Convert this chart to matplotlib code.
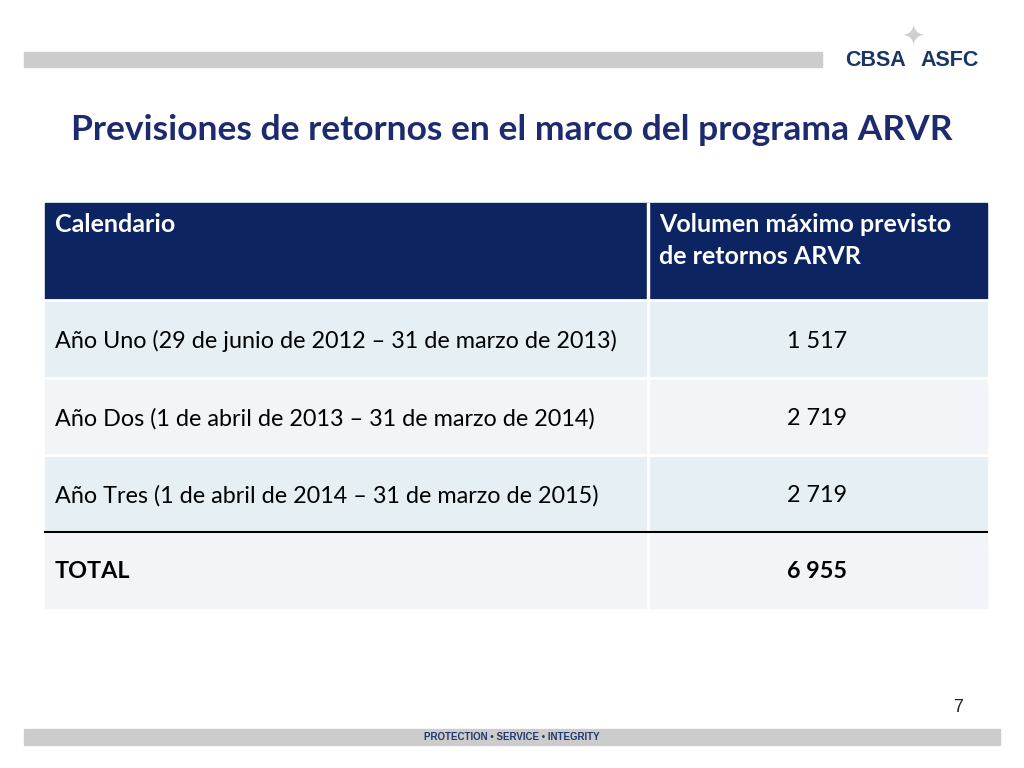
import matplotlib.pyplot as plt
from matplotlib.patches import Rectangle

# datos de la tabla
encabezados = ["Calendario", "Volumen máximo previsto\nde retornos ARVR"]
periodos = [
    "Año Uno (29 de junio de 2012 – 31 de marzo de 2013)",
    "Año Dos (1 de abril de 2013 – 31 de marzo de 2014)",
    "Año Tres (1 de abril de 2014 – 31 de marzo de 2015)",
    "TOTAL",
]
volumenes = ["1 517", "2 719", "2 719", "6 955"]

plt.rcParams['font.family'] = 'Lato'
navy = "#0c2462"
fig = plt.figure(figsize=(10.24, 7.68), dpi=100)
ax = fig.add_axes([0, 0, 1, 1])
ax.set_xlim(0, 1024)
ax.set_ylim(768, 0)
ax.axis("off")

# barras grises de cabecera y pie
ax.add_patch(Rectangle((24, 52), 798, 15, color="#cccccc"))
ax.add_patch(Rectangle((24, 729), 976, 16, color="#cccccc"))
ax.text(512, 737.5, "PROTECTION • SERVICE • INTEGRITY", ha="center", va="center",
        fontsize=7, fontweight="bold", color="#1f3a6b", family="Liberation Sans")
ax.text(958, 708, "7", ha="center", va="center", fontsize=13, color="#222222",
        family="Liberation Sans")

# logo
ax.text(913, 36, "✦", ha="center", va="center", fontsize=20, color="#cfcfcf",
        family="DejaVu Sans", zorder=0)
ax.text(906, 60, "CBSA", ha="right", va="center", fontsize=15.5, fontweight="bold",
        color="#1a3566", family="Liberation Sans")
ax.text(920, 60, "ASFC", ha="left", va="center", fontsize=15.5, fontweight="bold",
        color="#1a3566", family="Liberation Sans")

# título
ax.text(512, 130, "Previsiones de retornos en el marco del programa ARVR", ha="center",
        va="center", fontsize=25.5, fontweight="bold", color="#1d2b6e")

# tabla
x0, xm, x1 = 45, 648, 987
ax.add_patch(Rectangle((x0, 203), x1 - x0, 97, color=navy))
ax.add_patch(Rectangle((xm - 1, 203), 2, 97, color="white"))
ax.text(55, 213, encabezados[0], ha="left", va="top", fontsize=18, color="white", fontweight="bold")
ax.text(659, 213, encabezados[1], ha="left", va="top", fontsize=18, color="white",
        fontweight="bold", linespacing=1.5)

filas_y = [300, 378, 455, 532, 608]
colores = ["#e6eff3", "#f1f5f8", "#e6eff3", "#f1f5f8"]
for i, (p, v) in enumerate(zip(periodos, volumenes)):
    ya, yb = filas_y[i], filas_y[i + 1]
    ax.add_patch(Rectangle((x0, ya), x1 - x0, yb - ya, color=colores[i]))
    ax.plot([x0, x1], [ya, ya], color="white", lw=2)
    peso = "bold" if p == "TOTAL" else "normal"
    ax.text(55, (ya + yb) / 2 + 2, p, ha="left", va="center", fontsize=16.8, color="black", fontweight=peso)
    ax.text(817, (ya + yb) / 2 + 2, v, ha="center", va="center", fontsize=16.8, color="black", fontweight=peso)
ax.plot([xm, xm], [300, 608], color="white", lw=2)
ax.plot([x0, x1], [532, 532], color="black", lw=1.5)

fig.savefig("out.png", dpi=100)
